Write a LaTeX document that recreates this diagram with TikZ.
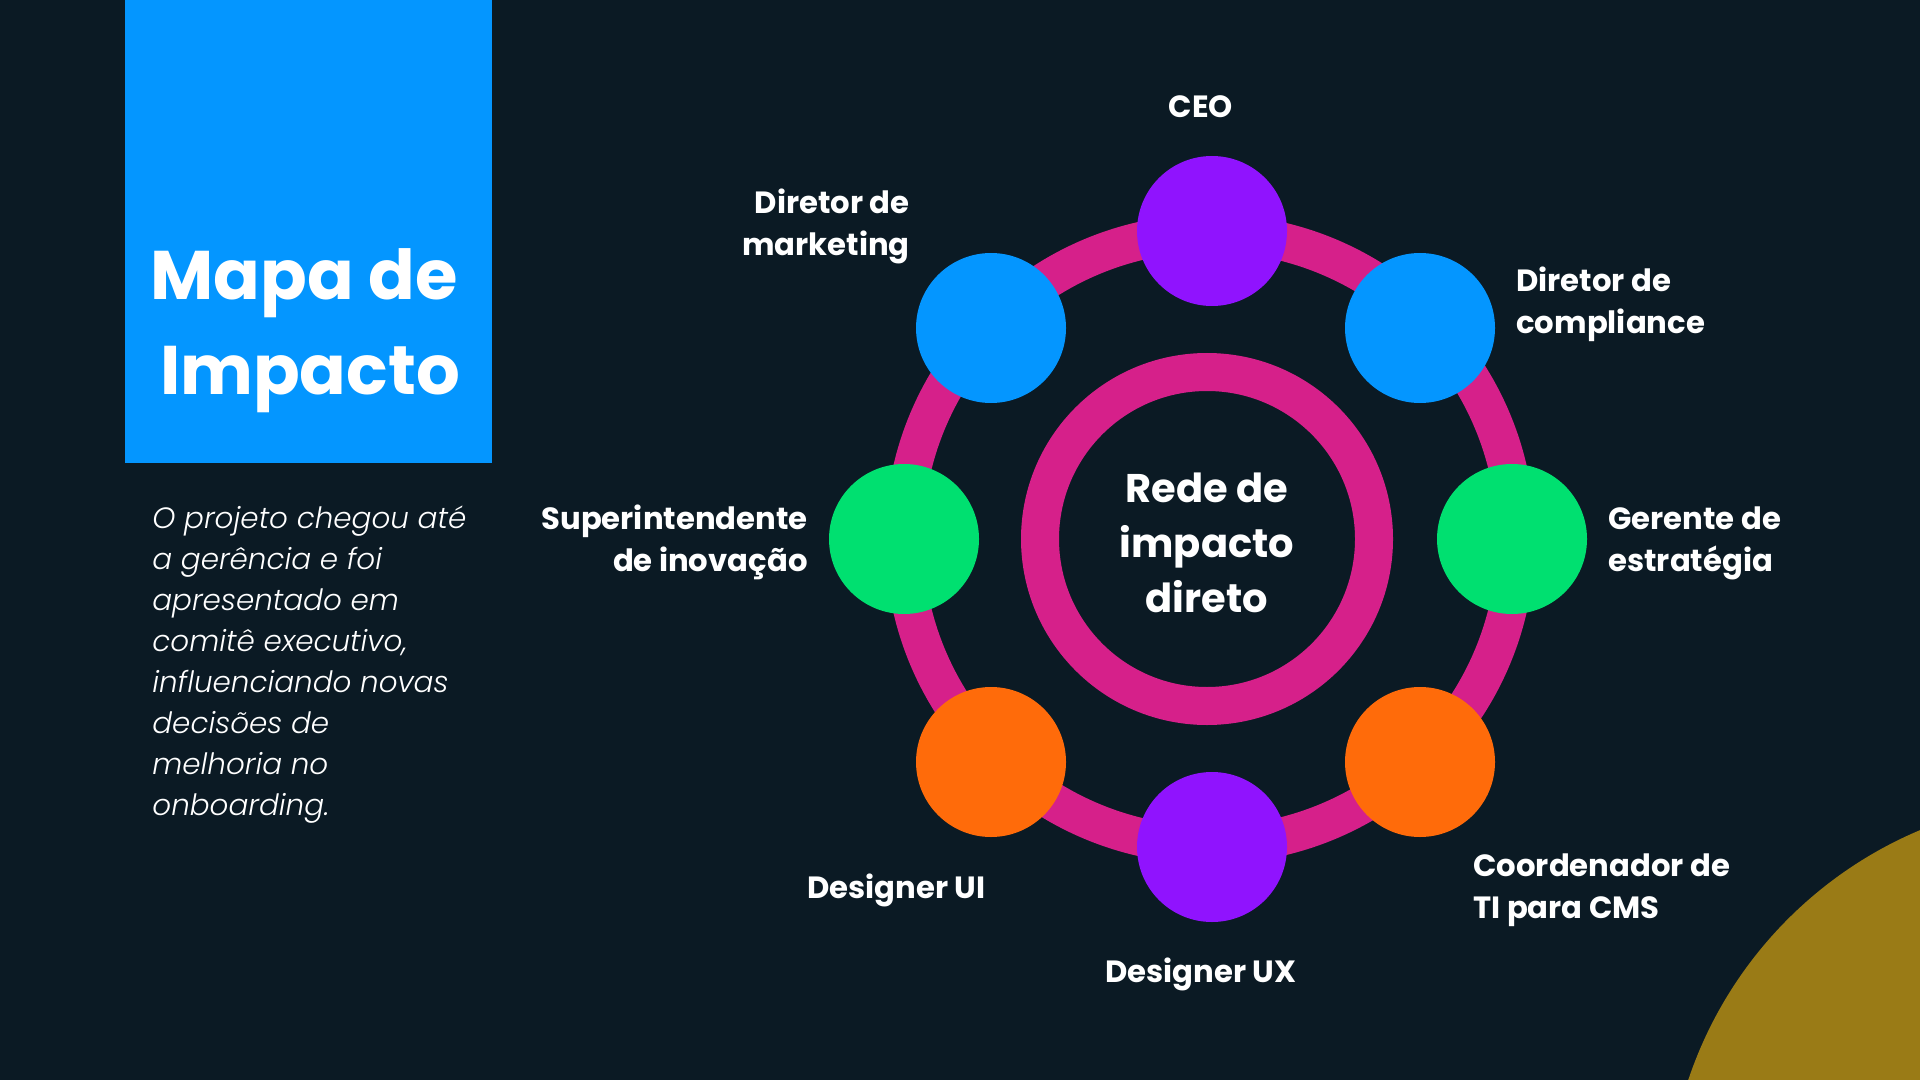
\documentclass[tikz,border=0pt]{standalone}
\usepackage{fontspec}
\setmainfont{Poppins}[BoldFont=* Bold]
\newfontfamily\bodyit{Poppins Light Italic}
\definecolor{bg}{HTML}{0B1A24}
\definecolor{blueb}{HTML}{0496FF}
\definecolor{mag}{HTML}{D6208A}
\definecolor{purp}{HTML}{9013FE}
\definecolor{grn}{HTML}{00E070}
\definecolor{org}{HTML}{FF6B0A}
\definecolor{gold}{HTML}{9A7B16}
\tikzset{
  dot/.style={circle,inner sep=0pt,minimum size=75pt,fill=#1},
  lbl/.style={text=white,font=\bfseries\fontsize{15.35}{21}\selectfont,inner sep=0pt},
  ttl/.style={text=white,font=\bfseries\fontsize{34.4}{47}\selectfont,inner sep=0pt,anchor=base},
}
\begin{document}
\begin{tikzpicture}[x=0.5pt,y=-0.5pt]
\fill[bg] (0,0) rectangle (1920,1080);
\useasboundingbox (0,0) rectangle (1920,1080);
% gold corner
\begin{scope}
\clip (0,0) rectangle (1920,1080);
\fill[gold] (2080,1211) circle[radius=206.5pt];
\end{scope}
% title block
\fill[blueb] (125,0) rectangle (492,463);
\node[ttl] (title1) at (304,300) {Mapa de};
\node[ttl] (title2) at (310,394) {Impacto};
\node[text=white,font=\bodyit\fontsize{14.7}{20.45}\selectfont,inner sep=0pt,anchor=base west,align=left] (body) at (152,815)
 {O projeto chegou até\\a gerência e foi\\apresentado em\\comitê executivo,\\influenciando novas\\decisões de\\melhoria no\\onboarding.};
% rings
\coordinate (c) at (1210,539);
\draw[mag,line width=19pt] (c) circle[radius=153pt];
\node[circle,draw=mag,line width=19pt,inner sep=0pt,minimum size=167pt] (hub) at (1207,539) {};
\node[text=white,align=center,inner sep=0pt,anchor=base,font=\bfseries\fontsize{20}{27.5}\selectfont] (hubtext) at (1207,612) {Rede de\\impacto\\direto};
% nodes
\node[dot=purp] (ceo) at (1212,231) {};
\node[dot=blueb] (comp) at (1420,328) {};
\node[dot=grn] (ger) at (1512,539) {};
\node[dot=org] (coord) at (1420,762) {};
\node[dot=purp] (ux) at (1212,847) {};
\node[dot=org] (ui) at (991,762) {};
\node[dot=grn] (sup) at (904,539) {};
\node[dot=blueb] (mkt) at (991,328) {};
% labels
\node[lbl,anchor=base] (lceo) at (1201,118) {CEO};
\node[lbl,anchor=base east,align=right] (lmkt) at (910,256) {Diretor de\\marketing};
\node[lbl,anchor=base west,align=left] (lcomp) at (1516,334) {Diretor de\\compliance};
\node[lbl,anchor=base east,align=right] (lsup) at (808,571) {Superintendente\\de inovação};
\node[lbl,anchor=base west,align=left] (lger) at (1608,571) {Gerente de\\estratégia};
\node[lbl,anchor=base east] (lui) at (986,898) {Designer UI};
\node[lbl,anchor=base west,align=left] (lcoord) at (1473,918) {Coordenador de\\TI para CMS};
\node[lbl,anchor=base] (lux) at (1201,982) {Designer UX};
\end{tikzpicture}
\end{document}
